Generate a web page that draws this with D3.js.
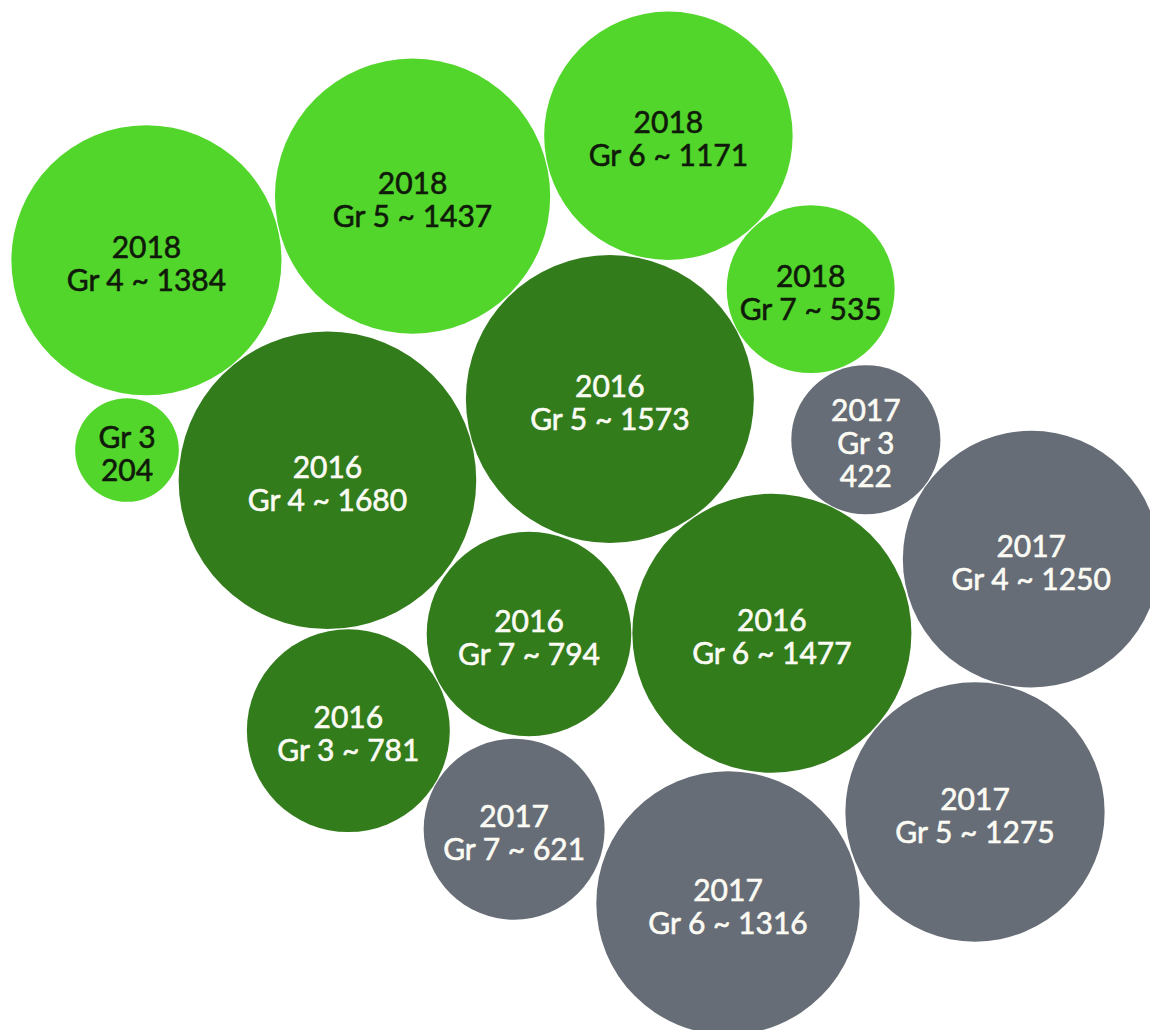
<!DOCTYPE html>
<html>
<head>
<meta charset="utf-8">
<script src="https://cdn.jsdelivr.net/npm/d3@7"></script>
<style>
  html, body { margin: 0; padding: 0; background: #ffffff; }
  svg text { font-family: Lato, "Open Sans", sans-serif; }
</style>
</head>
<body>
<div id="bubbles"></div>
<script>
// bubble data, one entry per year/grade
const years  = ["2018", "2018", "2018", "2018", "2018",
                "2016", "2016", "2016", "2016", "2016",
                "2017", "2017", "2017", "2017", "2017"];
const grades = ["Gr 3", "Gr 4", "Gr 5", "Gr 6", "Gr 7",
                "Gr 3", "Gr 4", "Gr 5", "Gr 6", "Gr 7",
                "Gr 3", "Gr 4", "Gr 5", "Gr 6", "Gr 7"];
const values = [204, 1384, 1437, 1171, 535,
                781, 1680, 1573, 1477, 794,
                422, 1250, 1275, 1316, 621];
// label lines as printed inside each bubble ("|" = line break)
const labels = ["Gr 3|204", "2018|Gr 4 ~ 1384", "2018|Gr 5 ~ 1437", "2018|Gr 6 ~ 1171", "2018|Gr 7 ~ 535",
                "2016|Gr 3 ~ 781", "2016|Gr 4 ~ 1680", "2016|Gr 5 ~ 1573", "2016|Gr 6 ~ 1477", "2016|Gr 7 ~ 794",
                "2017|Gr 3|422", "2017|Gr 4 ~ 1250", "2017|Gr 5 ~ 1275", "2017|Gr 6 ~ 1316", "2017|Gr 7 ~ 621"];
const yearOrder = ["2018", "2016", "2017"];

// layout seeds (pixel space) - the force sim settles the final positions
const seedX = [127, 147, 413, 668, 810, 350, 327, 610, 772, 529, 866, 1031, 975, 728, 512];
const seedY = [450, 261, 196, 136, 289, 731, 480, 399, 633, 634, 441, 559, 812, 903, 828];

const width = 1150, height = 1030;

const svg = d3.select("#bubbles")
  .append("svg")
  .attr("width", width)
  .attr("height", height);

const r = d3.scaleSqrt()
  .domain([0, d3.max(values)])
  .range([0, 148.8]);

const fill = d3.scaleOrdinal()
  .domain(yearOrder)
  .range(["#52d62b", "#327c1c", "#676d77"]);

const ink = d3.scaleOrdinal()
  .domain(yearOrder)
  .range(["#101a0a", "#fbfbf4", "#fbfbf4"]);

const nodes = values.map((v, i) => ({
  year: years[i], grade: grades[i], value: v, label: labels[i],
  r: r(v), x: seedX[i], y: seedY[i], tx: seedX[i], ty: seedY[i]
}));

const sim = d3.forceSimulation(nodes)
  .force("x", d3.forceX(d => d.tx).strength(0.6))
  .force("y", d3.forceY(d => d.ty).strength(0.6))
  .force("collide", d3.forceCollide(d => d.r + 0.5).iterations(4))
  .stop();
for (let i = 0; i < 300; i++) sim.tick();

const g = svg.selectAll("g.bubble")
  .data(nodes)
  .enter().append("g")
  .attr("class", "bubble")
  .attr("transform", d => `translate(${d.x},${d.y})`);

g.append("circle")
  .attr("r", d => d.r)
  .attr("fill", d => fill(d.year));

const lineH = 33;
g.each(function (d) {
  const lines = d.label.split("|");
  const t = d3.select(this).append("text")
    .attr("text-anchor", "middle")
    .attr("font-size", 30)
    .attr("fill", ink(d.year))
    .attr("stroke", ink(d.year))
    .attr("stroke-width", 0.6);
  lines.forEach((ln, k) => {
    t.append("tspan")
      .attr("x", 0)
      .attr("y", (k - (lines.length - 1) / 2) * lineH + 14)
      .text(ln);
  });
});
</script>
</body>
</html>
